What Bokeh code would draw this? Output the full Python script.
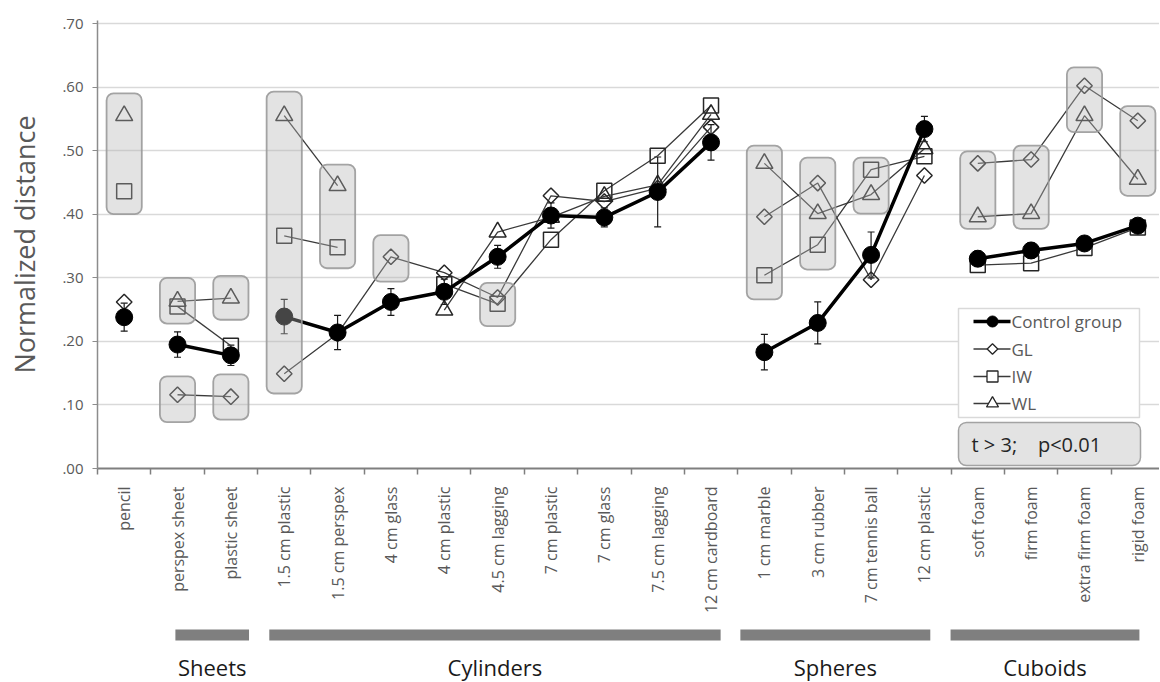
import math
from bokeh.plotting import figure
from bokeh.models import (Range1d, FixedTicker, Whisker, ColumnDataSource, TeeHead)
from bokeh.layouts import column
from bokeh.embed import file_html
from bokeh.resources import INLINE
from bokeh.core.properties import value

# ---------------- data ----------------
categories = ["pencil", "perspex sheet", "plastic sheet", "1.5 cm plastic",
              "1.5 cm perspex", "4 cm glass", "4 cm plastic", "4.5 cm lagging",
              "7 cm plastic", "7 cm glass", "7.5 cm lagging", "12 cm cardboard",
              "1 cm marble", "3 cm rubber", "7 cm tennis ball", "12 cm plastic",
              "soft foam", "firm foam", "extra firm foam", "rigid foam"]

control = [0.238, 0.195, 0.178, 0.239, 0.214, 0.262, 0.278, 0.333, 0.398, 0.395,
           0.435, 0.513, 0.183, 0.229, 0.336, 0.534, 0.330, 0.343, 0.354, 0.382]
control_err = [0.022, 0.020, 0.016, 0.027, 0.027, 0.021, 0.020, 0.018, 0.020, 0.015,
               0.055, 0.028, 0.028, 0.033, 0.036, 0.020, 0.012, 0.012, 0.010, 0.010]
gl = [0.262, 0.116, 0.113, 0.149, 0.212, 0.333, 0.308, 0.269, 0.429, 0.420,
      0.441, 0.537, 0.396, 0.449, 0.297, 0.461, 0.480, 0.486, 0.602, 0.547]
iw = [0.436, 0.255, 0.193, 0.366, 0.348, None, 0.290, 0.259, 0.360, 0.437,
      0.492, 0.571, 0.304, 0.352, 0.470, 0.491, 0.320, 0.323, 0.347, 0.379]
wl = [0.555, 0.263, 0.268, 0.555, 0.445, None, 0.249, 0.372, 0.395, 0.428,
      0.446, 0.557, 0.480, 0.401, 0.431, 0.503, 0.396, 0.401, 0.555, 0.455]

series_names = ["Control group", "GL", "IW", "WL"]

y_ticks = [0.0, 0.1, 0.2, 0.3, 0.4, 0.5, 0.6, 0.7]
y_tick_labels = [".00", ".10", ".20", ".30", ".40", ".50", ".60", ".70"]

group_names = ["Sheets", "Cylinders", "Spheres", "Cuboids"]
group_first = [1, 3, 12, 16]
group_last = [2, 11, 15, 19]

# shaded significance boxes (t > 3; p<0.01): category index, low, high
box_cat = [0, 1, 1, 2, 2, 3, 4, 5, 7, 12, 13, 14, 16, 17, 18, 19]
box_low = [0.400, 0.228, 0.073, 0.234, 0.077, 0.118, 0.315, 0.294, 0.224,
           0.266, 0.313, 0.401, 0.377, 0.377, 0.529, 0.429]
box_high = [0.590, 0.300, 0.145, 0.303, 0.148, 0.593, 0.478, 0.367, 0.292,
            0.508, 0.489, 0.489, 0.499, 0.508, 0.631, 0.570]

note_text = "t > 3;\u00a0\u00a0\u00a0 p<0.01"

# ---------------- layout / style constants ----------------
FONT = "Open Sans"
GREY_TXT = "#595959"
N = len(categories)
xs = [i + 0.5 for i in range(N)]

FRAME_L, FRAME_T, FRAME_B = 97, 20, 468
FRAME_W = 1062
CAT_PX = 53.35            # pixels per category
Y_PX = 635.7              # pixels per unit of normalized distance
X_END = FRAME_W / CAT_PX
Y_END = (FRAME_B - FRAME_T) / Y_PX
MAIN_BOTTOM = 146


def dx(px):   # window pixel -> x data
    return (px - FRAME_L) / CAT_PX


def dy(py):   # window pixel -> y data
    return (FRAME_B - py) / Y_PX


# bar extents under each group (category units)
group_bar_left = [1.46, 3.22, 12.05, 15.99]
group_bar_right = [2.84, 11.68, 15.61, 19.53]

p = figure(x_range=Range1d(0, X_END), y_range=Range1d(0, Y_END),
           frame_width=FRAME_W, frame_height=FRAME_B - FRAME_T,
           min_border_left=FRAME_L, min_border_right=0, min_border_top=FRAME_T,
           min_border_bottom=MAIN_BOTTOM,
           output_backend="svg", toolbar_location=None,
           outline_line_color=None, background_fill_color="white")

# axes
p.xaxis.ticker = FixedTicker(ticks=xs, minor_ticks=list(range(0, N + 1)))
p.xaxis.major_label_overrides = {x: c for x, c in zip(xs, categories)}
p.xaxis.major_label_orientation = math.pi / 2
p.xaxis.major_tick_out = 0
p.xaxis.major_tick_in = 0
p.xaxis.minor_tick_out = 6
p.xaxis.minor_tick_in = 0
p.xaxis.minor_tick_line_color = "#7f7f7f"
p.xaxis.minor_tick_line_width = 1.5
p.xaxis.axis_line_color = "#7f7f7f"
p.xaxis.axis_line_width = 2
p.xaxis.major_label_standoff = 12
p.xaxis.major_label_text_font = FONT
p.xaxis.major_label_text_font_size = "16px"
p.xaxis.major_label_text_color = GREY_TXT

p.yaxis.ticker = FixedTicker(ticks=y_ticks, minor_ticks=[])
p.yaxis.major_label_overrides = {t: l for t, l in zip(y_ticks, y_tick_labels)}
p.yaxis.major_tick_out = 5
p.yaxis.major_tick_in = 0
p.yaxis.major_tick_line_color = "#8c8c8c"
p.yaxis.axis_line_color = "#8c8c8c"
p.yaxis.axis_line_width = 1.5
p.yaxis.major_label_standoff = 9
p.yaxis.major_label_text_font = FONT
p.yaxis.major_label_text_font_size = "15px"
p.yaxis.major_label_text_color = GREY_TXT
p.yaxis.axis_label = "Normalized distance"
p.yaxis.axis_label_text_font = FONT
p.yaxis.axis_label_text_font_size = "27px"
p.yaxis.axis_label_text_font_style = "normal"
p.yaxis.axis_label_text_color = GREY_TXT
p.yaxis.axis_label_standoff = 16

p.xgrid.visible = False
p.ygrid.ticker = FixedTicker(ticks=y_ticks, minor_ticks=[])
p.ygrid.grid_line_color = "#d9d9d9"
p.ygrid.grid_line_width = 1.5


def segments(vals):
    sx, sy = [], []
    for f, l in zip(group_first, group_last):
        cx, cy = [], []
        for i in range(f, l + 1):
            v = vals[i]
            if v is None:
                if len(cx) > 1:
                    sx.append(cx); sy.append(cy)
                cx, cy = [], []
            else:
                cx.append(xs[i]); cy.append(v)
        if len(cx) > 1:
            sx.append(cx); sy.append(cy)
    return sx, sy


def points(vals):
    px = [xs[i] for i, v in enumerate(vals) if v is not None]
    py = [v for v in vals if v is not None]
    return px, py


# error bars for the control group
err_src = ColumnDataSource(dict(x=xs,
                                upper=[c + e for c, e in zip(control, control_err)],
                                lower=[c - e for c, e in zip(control, control_err)]))
p.add_layout(Whisker(source=err_src, base="x", upper="upper", lower="lower",
                     dimension="height", line_color="#1a1a1a", line_width=1.2,
                     upper_head=TeeHead(size=7, line_color="#1a1a1a", line_width=1.2),
                     lower_head=TeeHead(size=7, line_color="#1a1a1a", line_width=1.2)))

# marker styles: (marker, size in plot, size in legend, angle)
styles = {
    "Control group": ("circle", 17, 11, 0.0),
    "GL": ("square", 11, 7.5, math.pi / 4),
    "IW": ("square", 15, 11, 0.0),
    "WL": ("triangle", 17, 12, 0.0),
}
line_styles = {
    "Control group": ("black", 3.5),
    "GL": ("#3a3a3a", 1.3),
    "IW": ("#3a3a3a", 1.3),
    "WL": ("#3a3a3a", 1.3),
}


def draw_series(name, vals):
    mk, sz, _, ang = styles[name]
    lc, lw = line_styles[name]
    sx, sy = segments(vals)
    p.multi_line(xs=sx, ys=sy, line_color=lc, line_width=lw)
    px, py = points(vals)
    if name == "Control group":
        p.scatter(x=px, y=py, marker=mk, size=sz, fill_color="black",
                  line_color="black")
    else:
        p.scatter(x=px, y=py, marker=mk, size=sz, angle=ang,
                  fill_alpha=0, line_color="#262626", line_width=1.5)


draw_series("GL", gl)
draw_series("IW", iw)
draw_series("WL", wl)
draw_series("Control group", control)

# shaded significance boxes drawn on top (semi-transparent)
p.quad(left=[xs[c] - 0.33 for c in box_cat], right=[xs[c] + 0.33 for c in box_cat],
       bottom=box_low, top=box_high, border_radius=7,
       fill_color="#b5b5b5", fill_alpha=0.38,
       line_color="#9a9a9a", line_alpha=0.9, line_width=1.8)

# note box
p.quad(left=[dx(958)], right=[dx(1140)], bottom=[dy(465)], top=[dy(422)],
       border_radius=8, fill_color="#b5b5b5", fill_alpha=0.38,
       line_color="#9a9a9a", line_alpha=0.9, line_width=1.5)
p.text(x=[dx(971)], y=[dy(444)], text=[note_text], text_font=value(FONT),
       text_font_size="20px", text_color="#262626",
       text_baseline="middle", text_align="left")

# legend (drawn as glyphs so that marker shapes match)
p.quad(left=[dx(958)], right=[dx(1139)], bottom=[dy(417)], top=[dy(308)],
       fill_color="white", line_color="#d9d9d9", line_width=1.5)
leg_rows = [321, 348.5, 376, 403]
for name, row in zip(series_names, leg_rows):
    mk, _, lsz, ang = styles[name]
    lc, lw = line_styles[name]
    p.line(x=[dx(973), dx(1010)], y=[dy(row), dy(row)], line_color=lc, line_width=lw)
    if name == "Control group":
        p.scatter(x=[dx(992)], y=[dy(row)], marker=mk, size=lsz,
                  fill_color="black", line_color="black")
    else:
        p.scatter(x=[dx(992)], y=[dy(row)], marker=mk, size=lsz, angle=ang,
                  fill_color="white", line_color="#262626", line_width=1.3)
p.text(x=[dx(1011)] * 4, y=[dy(r) for r in leg_rows], text=series_names,
       text_font=value(FONT), text_font_size="17px", text_color=GREY_TXT,
       text_baseline="middle", text_align="left")

# ---------------- group bars below ----------------
G_TOP = FRAME_B + MAIN_BOTTOM          # window y where the lower strip starts
G_H = 681 - G_TOP
g = figure(x_range=p.x_range, y_range=Range1d(G_H, 0),
           frame_width=FRAME_W, frame_height=G_H,
           min_border_left=FRAME_L, min_border_right=0, min_border_top=0,
           min_border_bottom=0, x_axis_type=None, y_axis_type=None,
           output_backend="svg", toolbar_location=None,
           outline_line_color=None)
g.grid.visible = False
g.quad(left=group_bar_left, right=group_bar_right,
       top=[627 - G_TOP] * len(group_names), bottom=[638 - G_TOP] * len(group_names),
       fill_color="#7f7f7f", line_color=None)
g.text(x=[(a + b) / 2 for a, b in zip(group_bar_left, group_bar_right)],
       y=[664 - G_TOP] * len(group_names), text=group_names, text_font=value(FONT),
       text_font_size="22px", text_color="#1a1a1a",
       text_align="center", text_baseline="middle")

layout = column(p, g, spacing=0)
open("out.html", "w").write(file_html(layout, INLINE))
